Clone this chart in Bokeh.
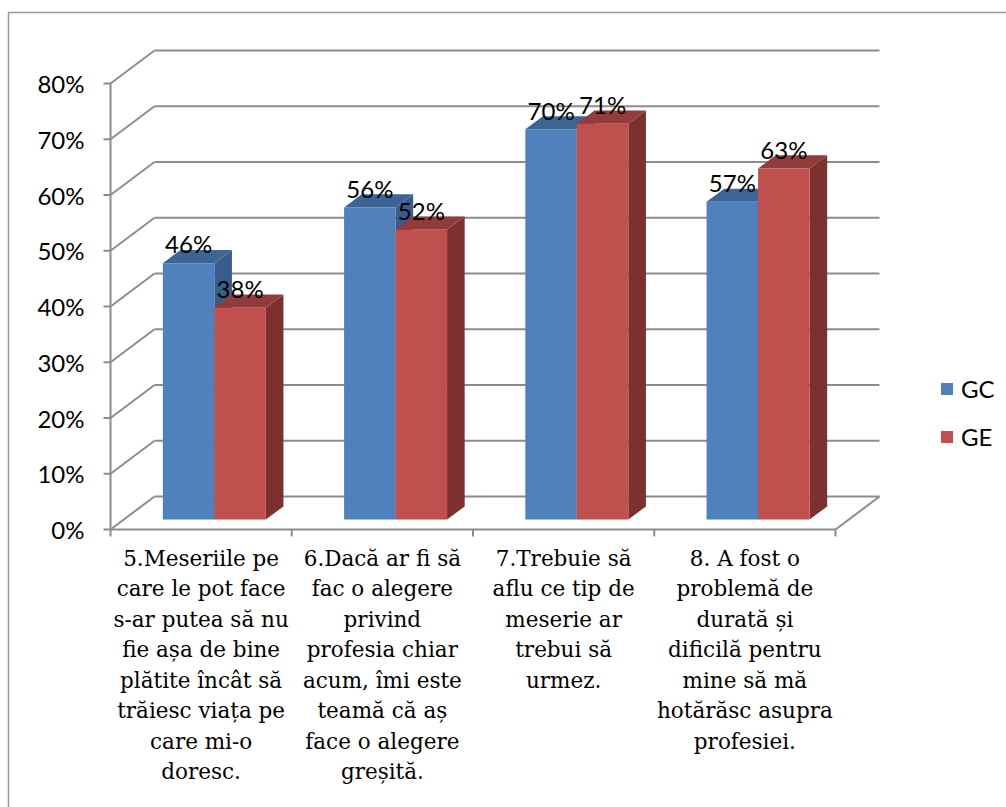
from bokeh.plotting import figure
from bokeh.models import Range1d, Legend, LegendItem
from bokeh.core.properties import value
from bokeh.embed import file_html
from bokeh.resources import INLINE

# ---------------- data ----------------
categories = [
    "5.Meseriile pe\ncare le pot face\ns-ar putea să nu\nfie așa de bine\nplătite încât să\ntrăiesc viața pe\ncare mi-o\ndoresc.",
    "6.Dacă ar fi să\nfac o alegere\nprivind\nprofesia chiar\nacum, îmi este\nteamă că aș\nface o alegere\ngreșită.",
    "7.Trebuie să\naflu ce tip de\nmeserie ar\ntrebui să\nurmez.",
    "8. A fost o\nproblemă de\ndurată și\ndificilă pentru\nmine să mă\nhotărăsc asupra\nprofesiei.",
]
series_names = ["GC", "GE"]
gc_values = [46, 56, 70, 57]
ge_values = [38, 52, 71, 63]
y_ticks = [0, 10, 20, 30, 40, 50, 60, 70, 80]
y_tick_labels = ["0%", "10%", "20%", "30%", "40%", "50%", "60%", "70%", "80%"]

# ---------------- layout / style ----------------
W, H = 1006, 807
PX_X = 181.25          # pixels per category
PX_Y = 5.575           # pixels per percent
ORIG_X, ORIG_Y = 110, 529   # pixel position of (0, 0)
DX = 44 / PX_X         # depth vector of the box (data units)
DY = 33 / PX_Y
D0, D1 = 0.3, 0.7      # bar front / back depth fractions
BW = 51.5 / PX_X       # bar width
GRID = "#8c8c8c"
SANS = "Lato"
SERIF = "DejaVu Serif"
colors = {
    "GC": ("#4F81BD", "#3D6493", "#385D8A"),   # front, top, side
    "GE": ("#C0504D", "#903C3A", "#7C302F"),
}

p = figure(width=W, height=H, output_backend="svg", toolbar_location=None,
           x_range=Range1d(-ORIG_X / PX_X, (W - ORIG_X) / PX_X),
           y_range=Range1d(-(H - ORIG_Y) / PX_Y, ORIG_Y / PX_Y),
           x_axis_type=None, y_axis_type=None, min_border=0,
           outline_line_color=None, background_fill_color="white",
           border_fill_color="white")

n = len(categories)
ymax = y_ticks[-1]

# outer chart border (left & top)
bx = (8 - ORIG_X) / PX_X
by = (ORIG_Y - 12) / PX_Y
p.line(x=[bx, bx, (W - ORIG_X) / PX_X], y=[-(H - ORIG_Y) / PX_Y, by, by],
       line_color="#9a9a9a", line_width=1.5)

# back wall gridlines and side diagonals
p.segment(x0=[DX] * len(y_ticks), y0=[t + DY for t in y_ticks],
          x1=[n + DX] * len(y_ticks), y1=[t + DY for t in y_ticks],
          line_color=GRID, line_width=2)
p.segment(x0=[0] * len(y_ticks), y0=y_ticks,
          x1=[DX] * len(y_ticks), y1=[t + DY for t in y_ticks],
          line_color=GRID, line_width=2)
# floor edges
p.segment(x0=[0, n], y0=[0, 0], x1=[n, n + DX], y1=[0, DY],
          line_color=GRID, line_width=2)
# front value axis and its ticks
p.segment(x0=[0], y0=[0], x1=[0], y1=[ymax], line_color=GRID, line_width=2)
p.segment(x0=[0] * len(y_ticks), y0=y_ticks,
          x1=[-7 / PX_X] * len(y_ticks), y1=y_ticks,
          line_color=GRID, line_width=2)
# category ticks
p.segment(x0=list(range(n + 1)), y0=[0] * (n + 1),
          x1=list(range(n + 1)), y1=[-7 / PX_Y] * (n + 1),
          line_color=GRID, line_width=2)

# y tick labels
p.text(x=[0] * len(y_ticks), y=y_ticks, text=y_tick_labels,
       x_offset=-26, text_align="right", text_baseline="middle",
       text_font=value(SANS), text_font_size="24px", text_color="black")

# bars
fronts = {}
for s_idx, (name, vals) in enumerate(zip(series_names, [gc_values, ge_values])):
    front_c, top_c, side_c = colors[name]
    lefts = [i + 0.5 - BW + s_idx * BW + D0 * DX for i in range(n)]
    rights = [l + BW for l in lefts]
    base = D0 * DY
    tops = [v + base for v in vals]
    ddx = (D1 - D0) * DX
    ddy = (D1 - D0) * DY
    side_xs = [[r, r + ddx, r + ddx, r] for r in rights]
    side_ys = [[base, base + ddy, t + ddy, t] for t in tops]
    top_xs = [[l, r, r + ddx, l + ddx] for l, r in zip(lefts, rights)]
    top_ys = [[t, t, t + ddy, t + ddy] for t in tops]
    p.patches(xs=side_xs, ys=side_ys, fill_color=side_c, line_color=None)
    p.patches(xs=top_xs, ys=top_ys, fill_color=top_c, line_color=None)
    fronts[name] = p.quad(left=lefts, right=rights, bottom=[base] * n, top=tops,
                          fill_color=front_c, line_color=None)

# data labels
for s_idx, vals in enumerate([gc_values, ge_values]):
    xs = [i + 0.5 - BW / 2 + s_idx * BW + D0 * DX for i in range(n)]
    ys = [v + D1 * DY for v in vals]
    p.text(x=xs, y=ys, text=[f"{v}%" for v in vals], y_offset=-6,
           text_align="center", text_baseline="alphabetic",
           text_font=value(SANS), text_font_size="24px", text_color="black")

# category labels
p.text(x=[i + 0.5 for i in range(n)], y=[0] * n, text=categories,
       y_offset=16, text_align="center", text_baseline="top",
       text_font=value(SERIF), text_font_size="21.5px",
       text_line_height=1.22, text_color="black")

legend = Legend(items=[LegendItem(label=nm, renderers=[fronts[nm]]) for nm in series_names],
                location=(939, 356), glyph_width=15, glyph_height=15,
                label_standoff=7, spacing=18, padding=0, margin=0,
                label_height=30, border_line_color=None, background_fill_alpha=0,
                label_text_font=SANS, label_text_font_size="24px",
                label_text_color="black")
p.add_layout(legend)

open("out.html", "w").write(file_html(p, INLINE))
